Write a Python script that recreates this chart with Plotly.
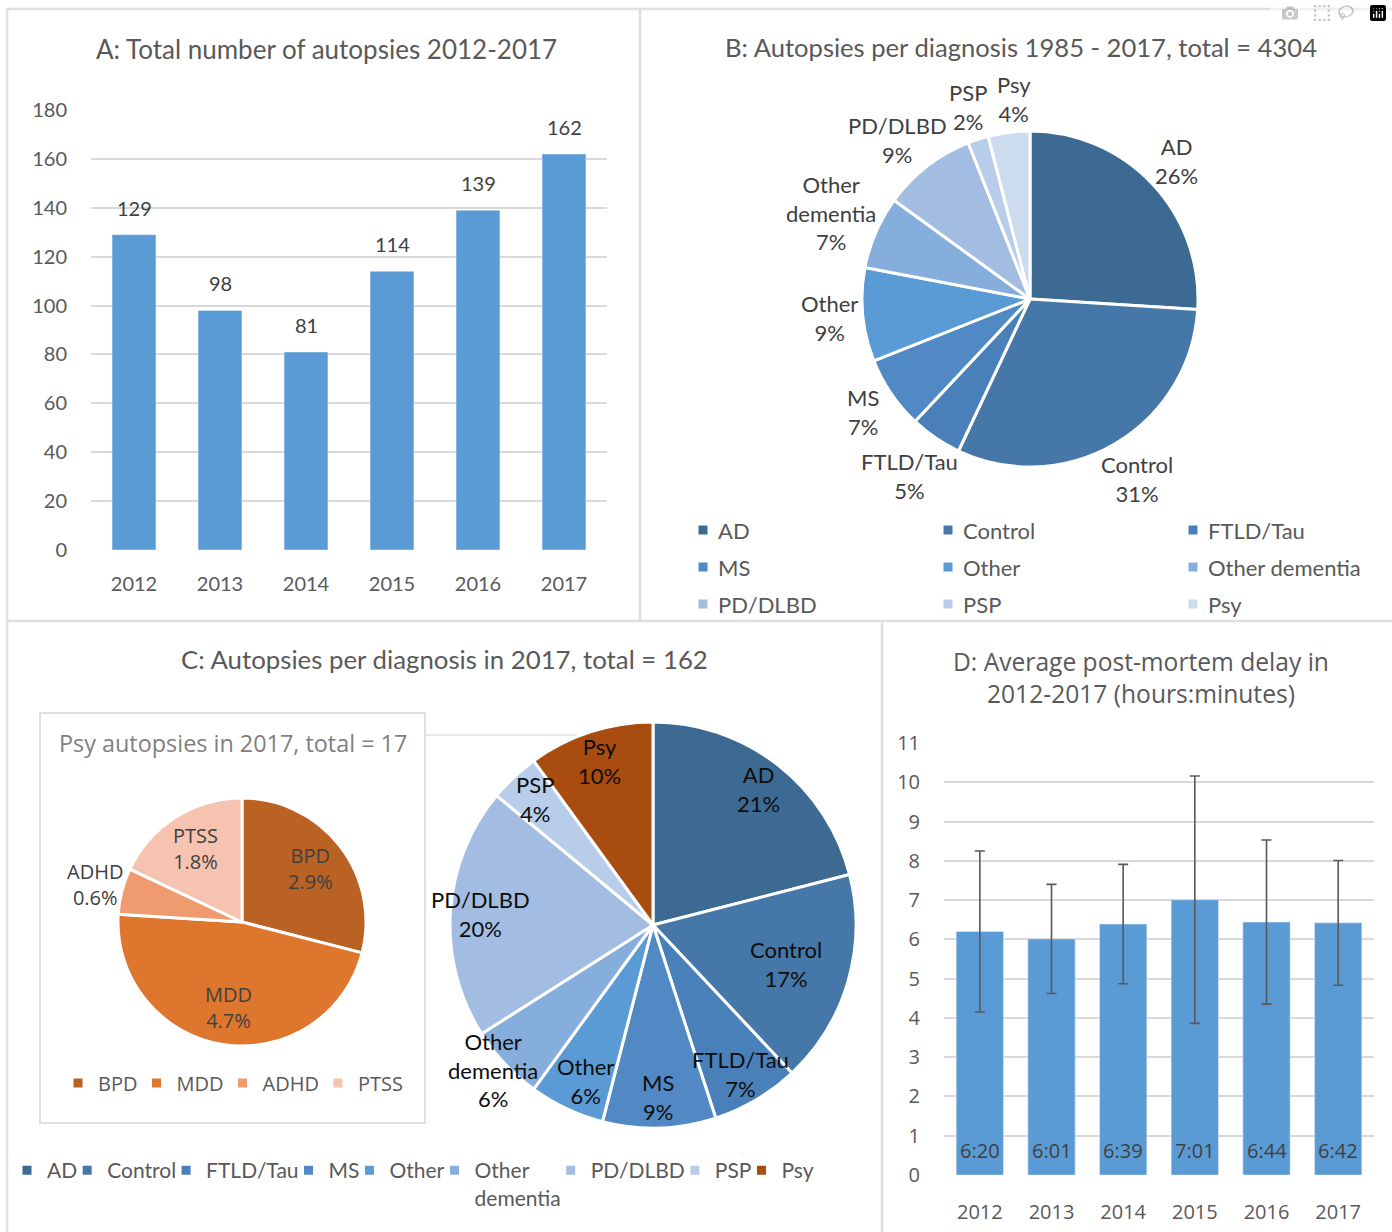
import math
import plotly.graph_objects as go

W, H = 1392, 1232


def X(px):
    return px / W


def Y(py):
    return 1 - py / H


# ---------------- data ----------------
years = ["2012", "2013", "2014", "2015", "2016", "2017"]
autopsies = [129, 98, 81, 114, 139, 162]

diagnoses = ["AD", "Control", "FTLD/Tau", "MS", "Other", "Other dementia",
             "PD/DLBD", "PSP", "Psy"]
pct_1985_2017 = [26, 31, 5, 7, 9, 7, 9, 2, 4]
pct_2017 = [21, 17, 7, 9, 6, 6, 20, 4, 10]

psy_labels = ["BPD", "MDD", "ADHD", "PTSS"]
psy_pct = [2.9, 4.7, 0.6, 1.8]

pmd_values = [6.20, 6.01, 6.39, 7.01, 6.44, 6.42]
pmd_labels = ["6:20", "6:01", "6:39", "7:01", "6:44", "6:42"]
pmd_err = [2.05, 1.39, 1.52, 3.15, 2.09, 1.59]

# ---------------- styles ----------------
blues = ["#3D6A93", "#4677A9", "#4A80BA", "#5089C4", "#5B9BD5",
         "#85AEDC", "#A2BDE1", "#B8CDE9", "#CCDBEE"]
blues_c = blues[:-1] + ["#A84C0F"]
oranges = ["#BA6124", "#DE772D", "#F09B6F", "#F5C3B0"]
BAR = "#5B9BD5"
GRID = "#D9D9D9"
FRAME = "#E0E0E0"
TXT = "#595959"
DARK = "#404040"
CAL = "Lato"
SEG = "Open Sans"

# pie geometry (centre x, centre y, radius) in pixels
B_PIE = (1030, 299, 168)
C_PIE = (653, 925, 203)
I_PIE = (242, 922, 124)
# radial position of inside labels (fraction of radius)
C_LABEL_R = 0.85
C_LABEL_R_SPECIAL = {"Control": 0.68, "Other dementia": 1.04}
I_LABEL_R = 0.70
I_OUTSIDE = {"ADHD"}


def wrap(s):
    return s.replace(" ", "<br>")


def pie_domain(pie):
    cx, cy, r = pie
    return dict(x=[X(cx - r), X(cx + r)], y=[Y(cy + r), Y(cy - r)])


def mid_angles(values):
    total = float(sum(values))
    cum = 0.0
    out = []
    for v in values:
        out.append(2 * math.pi * (cum + v / 2.0) / total)
        cum += v
    return out


def pct_text(values):
    total = float(sum(values))
    return ["%d%%" % round(100 * v / total) for v in values]


def glyph_boxes(x, y, lines, fs, cw=0.52, lh=1.3, gh=0.7):
    n = len(lines)
    boxes = []
    for i, ln in enumerate(lines):
        w = cw * fs * len(ln)
        yc = y + (i - (n - 1) / 2.0) * lh * fs
        boxes.append((x - w / 2, yc - gh * fs / 2, x + w / 2, yc + gh * fs / 2))
    return boxes


def dist_to_box(cx, cy, b):
    nx = min(max(cx, b[0]), b[2])
    ny = min(max(cy, b[1]), b[3])
    return math.hypot(nx - cx, ny - cy)


def outside_position(theta, pie, lines, fs, k0=1.2, gap=3):
    cx, cy, r = pie
    d = k0 * r
    for _ in range(300):
        x = cx + d * math.sin(theta)
        y = cy - d * math.cos(theta)
        if all(dist_to_box(cx, cy, b) >= r + gap for b in glyph_boxes(x, y, lines, fs)):
            break
        d += 1
    return [x, y]


def inside_position(theta, pie, k):
    cx, cy, r = pie
    return [cx + k * r * math.sin(theta), cy - k * r * math.cos(theta)]


def label_bbox(p, lines, fs, cw=0.55, lh=1.3):
    w = cw * fs * max(len(s) for s in lines)
    h = lh * fs * len(lines)
    return (p[0] - w / 2, p[1] - h / 2, p[0] + w / 2, p[1] + h / 2)


def separate(pos, lines_list, fs, gap=10, iters=60):
    for _ in range(iters):
        moved = False
        for i in range(len(pos)):
            for j in range(i + 1, len(pos)):
                a = label_bbox(pos[i], lines_list[i], fs)
                b = label_bbox(pos[j], lines_list[j], fs)
                ox = min(a[2], b[2]) - max(a[0], b[0]) + gap
                oy = min(a[3], b[3]) - max(a[1], b[1])
                if ox > 0.5 and oy > 0:
                    s = 1 if pos[i][0] < pos[j][0] else -1
                    pos[i][0] -= s * ox / 2
                    pos[j][0] += s * ox / 2
                    moved = True
        if not moved:
            break
    return pos


fig = go.Figure()

# Panel A bars
fig.add_trace(go.Bar(
    x=years, y=autopsies, width=0.51, marker_color=BAR,
    xaxis="x", yaxis="y", showlegend=False, hoverinfo="skip"))

# Panel D bars with error bars
fig.add_trace(go.Bar(
    x=years, y=pmd_values, width=0.66, marker_color=BAR,
    error_y=dict(type="data", array=pmd_err, color="#595959",
                 thickness=1.6, width=5),
    xaxis="x2", yaxis="y2", showlegend=False, hoverinfo="skip"))

# Panel B pie
fig.add_trace(go.Pie(
    labels=diagnoses, values=pct_1985_2017, textinfo="none",
    sort=False, direction="clockwise", rotation=0,
    marker=dict(colors=blues, line=dict(color="white", width=3)),
    domain=pie_domain(B_PIE), showlegend=False, hoverinfo="skip"))

# Panel C main pie
fig.add_trace(go.Pie(
    labels=[wrap(d) for d in diagnoses], values=pct_2017, textinfo="none",
    sort=False, direction="clockwise", rotation=0,
    marker=dict(colors=blues_c, line=dict(color="white", width=3)),
    domain=pie_domain(C_PIE), legend="legend3", hoverinfo="skip"))

# Panel C inset pie
fig.add_trace(go.Pie(
    labels=psy_labels, values=psy_pct, textinfo="none",
    sort=False, direction="clockwise", rotation=0,
    marker=dict(colors=oranges, line=dict(color="white", width=3)),
    domain=pie_domain(I_PIE), legend="legend2", hoverinfo="skip"))

shapes = []
for (x0, y0, x1, y1) in [(7, 9, 1392, 9), (7, 621, 1392, 621), (7, 9, 7, 1232),
                         (640, 9, 640, 621), (882, 621, 882, 1232)]:
    shapes.append(dict(type="line", xref="paper", yref="paper",
                       x0=X(x0), y0=Y(y0), x1=X(x1), y1=Y(y1),
                       line=dict(color=FRAME, width=2.5), layer="below"))
shapes.append(dict(type="rect", xref="paper", yref="paper",
                   x0=X(40), y0=Y(1123), x1=X(425), y1=Y(713),
                   line=dict(color=FRAME, width=2), fillcolor="white", layer="below"))
shapes.append(dict(type="line", xref="paper", yref="paper",
                   x0=X(425), y0=Y(735), x1=X(577), y1=Y(735),
                   line=dict(color=FRAME, width=1.5), layer="below"))

annotations = []


def paper_text(text, x, y, family, size, color=TXT, xanchor="center"):
    annotations.append(dict(text=text, x=X(x), y=Y(y), xref="paper", yref="paper",
                            showarrow=False, xanchor=xanchor, yanchor="middle",
                            font=dict(family=family, size=size, color=color)))


paper_text("A: Total number of autopsies 2012-2017", 326, 49, CAL, 26)
paper_text("B: Autopsies per diagnosis 1985 - 2017, total = 4304", 1021, 47, CAL, 25.6)
paper_text("C: Autopsies per diagnosis in 2017, total = 162", 444, 659, CAL, 25.8)
paper_text("D: Average post-mortem delay in<br>2012-2017 (hours:minutes)", 1141, 677, SEG, 24.6)
paper_text("Psy autopsies in 2017, total = 17", 233, 743, SEG, 23.4, "#7F7F7F")

# Panel A value labels (data coordinates: category index, bar value)
for i, v in enumerate(autopsies):
    annotations.append(dict(x=i, y=v, xref="x", yref="y", text=str(v),
                            showarrow=False, yshift=27, yanchor="middle",
                            font=dict(family=CAL, size=20, color=DARK)))

# Panel D value labels (inside the bars, near the base)
for i, lab in enumerate(pmd_labels):
    annotations.append(dict(x=i, y=0, xref="x2", yref="y2", text=lab,
                            showarrow=False, yshift=25, yanchor="middle",
                            font=dict(family=SEG, size=20, color=DARK)))

# Panel B pie labels (outside)
FS_B = 22
b_lines = [lab.split(" ") + [p] for lab, p in zip(diagnoses, pct_text(pct_1985_2017))]
b_pos = [outside_position(th, B_PIE, ln, FS_B)
         for th, ln in zip(mid_angles(pct_1985_2017), b_lines)]
b_pos = separate(b_pos, b_lines, FS_B)
for ln, (x, y) in zip(b_lines, b_pos):
    paper_text("<br>".join(ln), x, y, CAL, FS_B, DARK)

# Panel C pie labels (inside)
FS_C = 22
c_lines = [lab.split(" ") + [p] for lab, p in zip(diagnoses, pct_text(pct_2017))]
c_pos = [inside_position(th, C_PIE, C_LABEL_R_SPECIAL.get(lab, C_LABEL_R))
         for lab, th in zip(diagnoses, mid_angles(pct_2017))]
c_pos = separate(c_pos, c_lines, FS_C, gap=14)
for ln, (x, y) in zip(c_lines, c_pos):
    paper_text("<br>".join(ln), x, y, CAL, FS_C, "#0D0D0D")

# Panel C inset pie labels
FS_I = 20
for lab, v, th in zip(psy_labels, psy_pct, mid_angles(psy_pct)):
    lines = [lab, "%.1f%%" % v]
    if lab in I_OUTSIDE:
        x, y = outside_position(th, I_PIE, lines, FS_I)
    else:
        x, y = inside_position(th, I_PIE, I_LABEL_R)
    paper_text("<br>".join(lines), x, y, SEG, FS_I, DARK)

# Panel B legend (3 x 3 grid)
for i, (lab, col) in enumerate(zip(diagnoses, blues)):
    rr, c = divmod(i, 3)
    sx = 703 + 245 * c
    sy = 530 + 37 * rr
    shapes.append(dict(type="rect", xref="paper", yref="paper",
                       x0=X(sx - 4.5), x1=X(sx + 4.5), y0=Y(sy + 4.5), y1=Y(sy - 4.5),
                       fillcolor=col, line=dict(width=0)))
    paper_text(lab, sx + 13, sy, CAL, 22, TXT, xanchor="left")

axis_common = dict(showline=False, zeroline=False, ticks="outside",
                   tickcolor="rgba(0,0,0,0)", fixedrange=True)

fig.update_layout(
    width=W, height=H,
    margin=dict(l=0, r=0, t=0, b=0, autoexpand=False),
    paper_bgcolor="white", plot_bgcolor="rgba(0,0,0,0)",
    xaxis=dict(domain=[X(91), X(607)], type="category", showgrid=False,
               range=[-0.5, len(years) - 0.5],
               ticklen=16, tickfont=dict(family=CAL, size=20, color=TXT),
               anchor="y", **axis_common),
    yaxis=dict(domain=[Y(550), Y(110)], range=[0, 180], dtick=20,
               showgrid=True, gridcolor=GRID, gridwidth=1.5,
               ticklen=19, tickfont=dict(family=CAL, size=20, color=TXT),
               anchor="x", **axis_common),
    xaxis2=dict(domain=[X(944), X(1374)], type="category", showgrid=False,
                range=[-0.5, len(years) - 0.5],
                ticklen=19, tickfont=dict(family=SEG, size=20, color=TXT),
                anchor="y2", **axis_common),
    yaxis2=dict(domain=[Y(1175), Y(743)], range=[0, 11], dtick=1,
                showgrid=True, gridcolor=GRID, gridwidth=1.5,
                ticklen=19, tickfont=dict(family=SEG, size=20, color=TXT),
                anchor="x2", **axis_common),
    legend2=dict(orientation="h", x=X(64), xanchor="left", y=Y(1083), yanchor="middle",
                 font=dict(family=SEG, size=20, color=TXT), indentation=-6,
                 itemwidth=30, bgcolor="rgba(0,0,0,0)", itemclick=False),
    legend3=dict(orientation="h", x=X(22), xanchor="left", y=Y(1150), yanchor="top",
                 font=dict(family=CAL, size=21, color=TXT), indentation=-15,
                 itemwidth=30, valign="top", bgcolor="rgba(0,0,0,0)", itemclick=False),
    shapes=shapes, annotations=annotations,
    showlegend=True,
)

fig.write_html("out.html", post_script="document.body.style.margin='0';")
